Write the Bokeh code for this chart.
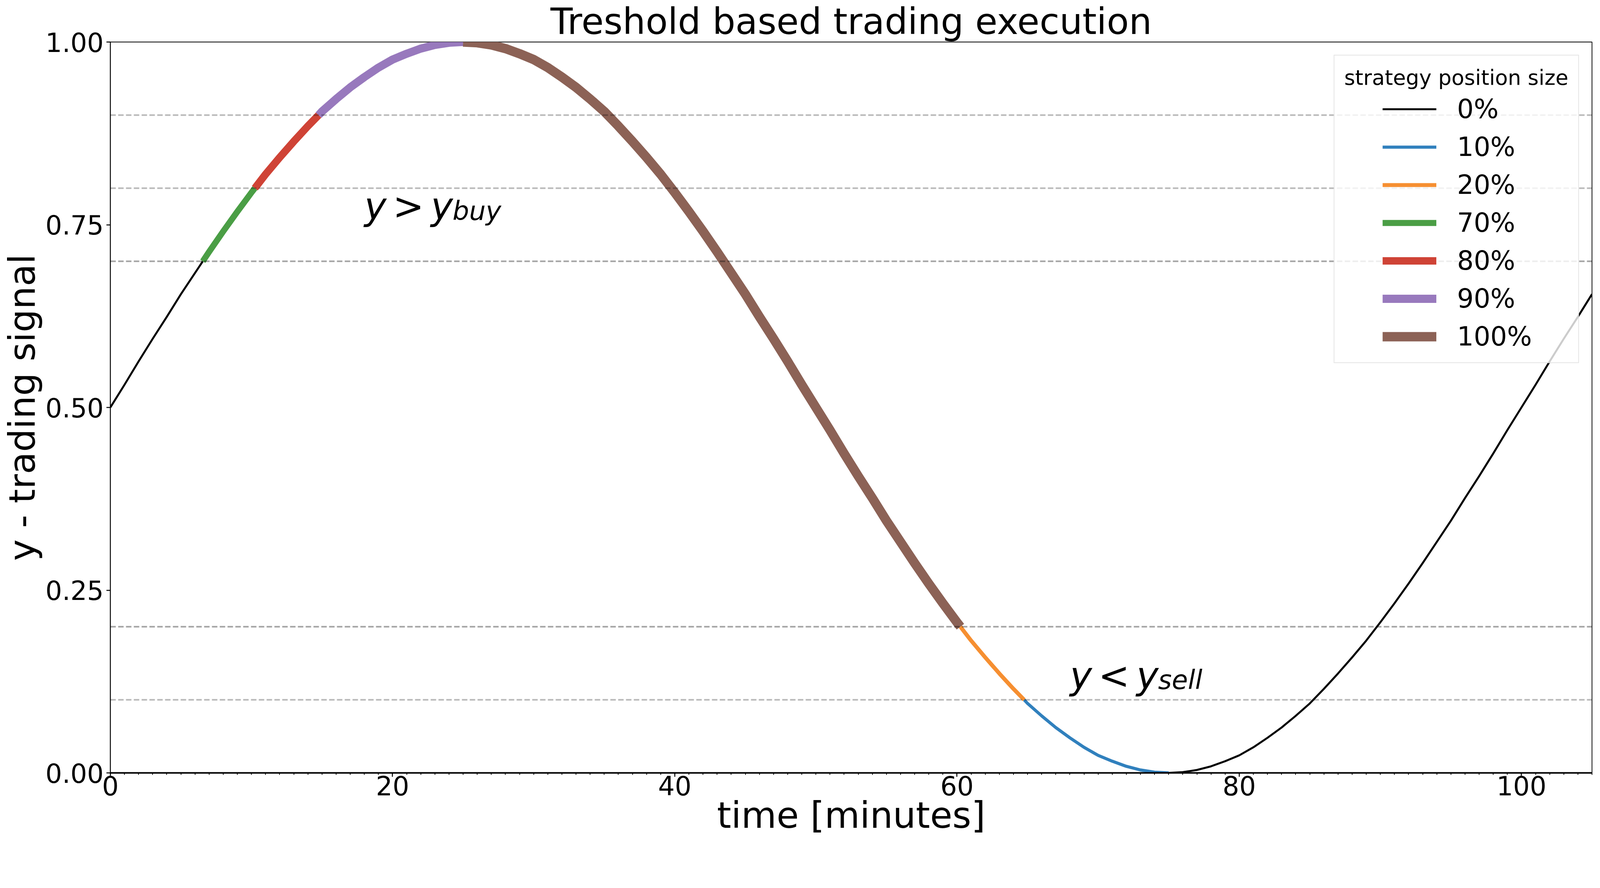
from bokeh.plotting import figure
from bokeh.models import Range1d, FixedTicker, PrintfTickFormatter, Span, Legend, LegendItem
from bokeh.core.properties import value
from bokeh.embed import file_html
from bokeh.resources import INLINE

# ---- data ----
time_min = [0, 1, 2, 3, 4, 5, 6, 6.55, 7, 8, 9, 10, 10.24, 11, 12, 13, 14, 14.76,
            15, 16, 17, 18, 19, 20, 21, 22, 23, 24, 25, 26, 27, 28, 29, 30, 31, 32,
            33, 34, 35, 36, 37, 38, 39, 40, 41, 42, 43, 44, 45, 46, 47, 48, 49, 50,
            51, 52, 53, 54, 55, 56, 57, 58, 59, 60, 60.24, 61, 62, 63, 64, 64.76,
            65, 66, 67, 68, 69, 70, 71, 72, 73, 74, 75, 76, 77, 78, 79, 80, 81, 82,
            83, 84, 85, 86, 87, 88, 89, 90, 91, 92, 93, 94, 95, 96, 97, 98, 99, 100,
            101, 102, 103, 104, 105]
signal = [0.500, 0.531, 0.563, 0.594, 0.624, 0.655, 0.684, 0.700, 0.713, 0.741, 0.768,
          0.794, 0.800, 0.819, 0.842, 0.864, 0.885, 0.900, 0.905, 0.922, 0.938, 0.952,
          0.965, 0.976, 0.984, 0.991, 0.996, 0.999, 1.000, 0.999, 0.996, 0.991, 0.984,
          0.976, 0.965, 0.952, 0.938, 0.922, 0.905, 0.885, 0.864, 0.842, 0.819, 0.794,
          0.768, 0.741, 0.713, 0.684, 0.655, 0.624, 0.594, 0.563, 0.531, 0.500, 0.469,
          0.437, 0.406, 0.376, 0.345, 0.316, 0.287, 0.259, 0.232, 0.206, 0.200, 0.181,
          0.158, 0.136, 0.115, 0.100, 0.095, 0.078, 0.062, 0.048, 0.035, 0.024, 0.016,
          0.009, 0.004, 0.001, 0.000, 0.001, 0.004, 0.009, 0.016, 0.024, 0.035, 0.048,
          0.062, 0.078, 0.095, 0.115, 0.136, 0.158, 0.181, 0.206, 0.232, 0.259, 0.287,
          0.316, 0.345, 0.376, 0.406, 0.437, 0.469, 0.500, 0.531, 0.563, 0.594, 0.624,
          0.655]

# colour changes along the curve (start, end, position size)
seg_start = [0, 6.55, 10.24, 14.76, 25, 60.24, 64.76, 75]
seg_end = [6.55, 10.24, 14.76, 25, 60.24, 64.76, 75, 105]
seg_level = ["0%", "70%", "80%", "90%", "100%", "20%", "10%", "0%"]

legend_order = ["0%", "10%", "20%", "70%", "80%", "90%", "100%"]
legend_title = "strategy position size"

buy_thresholds = [0.7, 0.8, 0.9]
sell_thresholds = [0.2, 0.1]

x_ticks = [0, 20, 40, 60, 80, 100]
x_minor_ticks = list(range(0, 106))
y_ticks = [0.0, 0.25, 0.5, 0.75, 1.0]

ann_x = [18, 68]
ann_y = [0.775, 0.133]
ann_rel = [">", "<"]
ann_sub = ["buy", "sell"]

# ---- styles ----
K = 1.045  # measured device px per css px


def px(v):
    return v / K


def fs(v):
    return "%.1fpx" % px(v)


level_color = {"0%": "#000000", "10%": "#3080bd", "20%": "#f68f31", "70%": "#4a9e45",
               "80%": "#cf4336", "90%": "#9879bd", "100%": "#8c6256"}
level_width = {"0%": 5.3, "10%": 8.3, "20%": 10.7, "70%": 16.3, "80%": 20,
               "90%": 21.7, "100%": 25}

FONT = "DejaVu Sans"

p = figure(width=4095, height=2156, x_range=Range1d(0, 105), y_range=Range1d(0, 1),
           output_backend="svg", toolbar_location=None,
           title="Treshold based trading execution",
           min_border_left=276, min_border_right=20, min_border_top=99,
           min_border_bottom=179)
p.background_fill_color = "white"
p.border_fill_color = "white"
p.grid.visible = False
p.outline_line_color = "black"
p.outline_line_width = px(2)

p.title.text_font = FONT
p.title.text_font_size = fs(97)
p.title.text_font_style = "normal"
p.title.text_color = "black"
p.title.align = "center"
p.title.standoff = -3

# axes
p.xaxis.ticker = FixedTicker(ticks=x_ticks, minor_ticks=x_minor_ticks)
p.yaxis.ticker = FixedTicker(ticks=y_ticks)
p.yaxis.formatter = PrintfTickFormatter(format="%.2f")
for ax in (p.xaxis, p.yaxis):
    ax.major_label_text_font = FONT
    ax.major_label_text_font_size = fs(70)
    ax.major_label_text_color = "black"
    ax.axis_label_text_font = FONT
    ax.axis_label_text_font_size = fs(97)
    ax.axis_label_text_font_style = "normal"
    ax.axis_label_text_color = "black"
    ax.major_tick_in = 0
    ax.major_tick_out = 10
    ax.major_tick_line_width = px(2.5)
    ax.major_tick_line_color = "black"
    ax.minor_tick_in = 0
    ax.minor_tick_out = 5
    ax.minor_tick_line_width = px(2)
    ax.minor_tick_line_color = "black"
    ax.axis_line_color = "black"
p.xaxis.axis_line_width = px(4)
p.yaxis.axis_line_width = px(2)
p.xaxis.axis_label = "time [minutes]"
p.yaxis.axis_label = "y - trading signal"
p.xaxis.major_label_standoff = -3
p.xaxis.axis_label_standoff = -6
p.yaxis.major_label_standoff = 7
p.yaxis.axis_label_standoff = 2

# threshold lines (drawn over the curve, semi-transparent)
for v in buy_thresholds + sell_thresholds:
    alpha = 0.36 if v in (0.7, 0.2) else 0.28
    p.add_layout(Span(location=v, dimension="width", line_color="black",
                      line_alpha=alpha, line_width=px(4), line_dash="14 6"))

# legend frame with title (drawn first, beneath the entries)
frame_dummy = p.line(x=[], y=[], line_alpha=0)
legend_box = Legend(items=[LegendItem(label=value(" "), renderers=[frame_dummy])],
                    location="top_right", margin=33, padding=25,
                    title=legend_title, title_text_font=FONT,
                    title_text_font_size=fs(56), title_text_font_style="normal",
                    title_text_color="black", title_standoff=12,
                    glyph_width=1, glyph_height=660, label_height=660, label_width=0,
                    label_standoff=0, spacing=0, label_text_alpha=0,
                    label_text_font_size=fs(70),
                    border_line_color="#cccccc", border_line_width=px(3),
                    background_fill_color="white", background_fill_alpha=0.8)
p.add_layout(legend_box)

# curve segments per position size
items = []
for lvl in legend_order:
    xs, ys = [], []
    for s, e, L in zip(seg_start, seg_end, seg_level):
        if L != lvl:
            continue
        idx = [i for i, t in enumerate(time_min) if s <= t <= e]
        xs.append([time_min[i] for i in idx])
        ys.append([signal[i] for i in idx])
    r = p.multi_line(xs=xs, ys=ys, line_color=level_color[lvl],
                     line_width=px(level_width[lvl]),
                     line_cap="butt", line_join="round")
    items.append(LegendItem(label=value(lvl), renderers=[r]))

# legend entries, centred inside the frame like the reference
legend_entries = Legend(items=items, location="top_right", margin=133, padding=0,
                        label_text_font=FONT, label_text_font_size=fs(70),
                        label_text_color="black",
                        glyph_width=138, glyph_height=78, label_height=78,
                        label_width=212, spacing=19, label_standoff=53,
                        border_line_alpha=0, background_fill_alpha=0)
p.add_layout(legend_entries)

# annotations y > y_buy, y < y_sell
p.text(x=ann_x, y=ann_y, text=["y", "y"], text_font=value(FONT), text_font_style="italic",
       text_font_size=fs(100), text_color="black", text_baseline="alphabetic")
p.text(x=ann_x, y=ann_y, text=ann_rel, x_offset=px(76), text_font=value(FONT),
       text_font_style="normal", text_font_size=fs(100), text_color="black",
       text_baseline="alphabetic")
p.text(x=ann_x, y=ann_y, text=["y", "y"], x_offset=px(178), text_font=value(FONT),
       text_font_style="italic", text_font_size=fs(100), text_color="black",
       text_baseline="alphabetic")
p.text(x=ann_x, y=ann_y, text=ann_sub, x_offset=px(236), y_offset=px(12),
       text_font=value(FONT), text_font_style="italic", text_font_size=fs(70),
       text_color="black", text_baseline="alphabetic")

open("out.html", "w").write(file_html(p, INLINE))
